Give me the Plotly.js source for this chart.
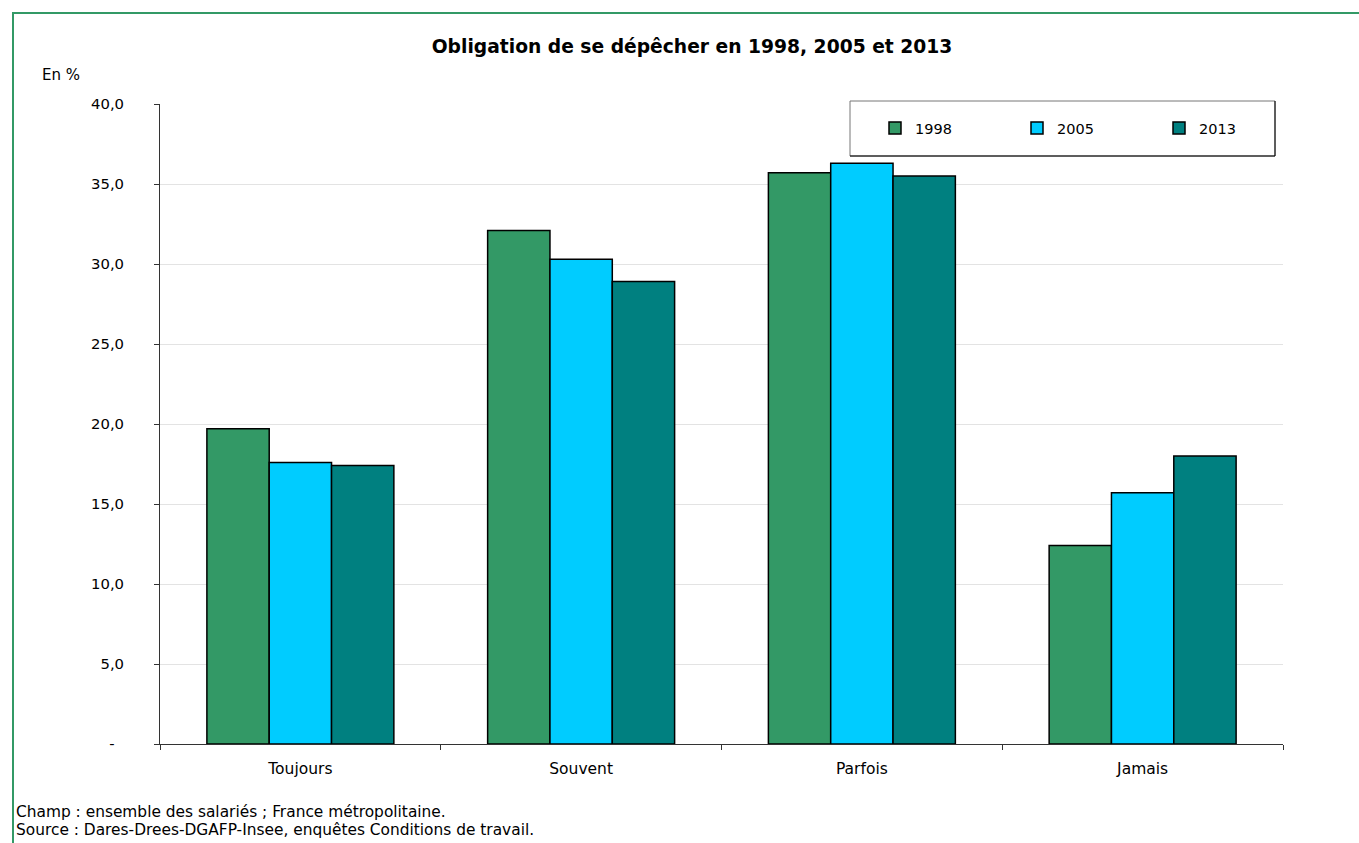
<!DOCTYPE html>
<html>
<head>
<meta charset="utf-8">
<script src="https://cdn.plot.ly/plotly-3.0.1.min.js"></script>
<style>
  html, body { margin: 0; padding: 0; background: #fff; overflow: hidden; }
  #frame { position: absolute; left: 12px; top: 12px; width: 1400px; height: 900px;
           border-left: 2px solid #339966; border-top: 2px solid #339966; pointer-events: none; }
  #chart { position: absolute; left: 0; top: 0; width: 1359px; height: 843px; }
</style>
</head>
<body>
<div id="chart"></div>
<div id="frame"></div>
<script>
const categories = ["Toujours", "Souvent", "Parfois", "Jamais"];
const seriesNames = ["1998", "2005", "2013"];
const v1998 = [19.7, 32.1, 35.7, 12.4];
const v2005 = [17.6, 30.3, 36.3, 15.7];
const v2013 = [17.4, 28.9, 35.5, 18.0];
const yTickVals = [0, 5, 10, 15, 20, 25, 30, 35, 40];
const yTickText = ["-\u00a0\u00a0", "5,0", "10,0", "15,0", "20,0", "25,0", "30,0", "35,0", "40,0"];
const colors = ["#339966", "#00CCFF", "#008080"];

const W = 1359, H = 843;
const M = { l: 160, r: W - 1283, t: 104, b: H - 744 };
const PW = W - M.l - M.r, PH = H - M.t - M.b;
const px = x => (x - M.l) / PW;
const py = y => (H - M.b - y) / PH;

const font = "DejaVu Sans, Verdana, sans-serif";
const values = [v1998, v2005, v2013];
const legendIds = ["legend", "legend2", "legend3"];
const legendCenters = [895, 1037, 1179];

const data = values.map((vals, i) => ({
  type: "bar",
  name: seriesNames[i],
  x: categories,
  y: vals,
  legend: legendIds[i],
  marker: { color: colors[i], line: { color: "#000", width: 1.5 } },
  hoverinfo: "x+y+name"
}));

const layout = {
  width: W, height: H,
  margin: M,
  paper_bgcolor: "#fff", plot_bgcolor: "#fff",
  font: { family: font, size: 14.5, color: "#000" },
  barmode: "group",
  bargap: 0.334,
  bargroupgap: 0,
  showlegend: true,
  title: {
    text: "<b>Obligation de se dépêcher en 1998, 2005 et 2013</b>",
    font: { family: font, size: 18.7, color: "#000" },
    x: 692 / W, xanchor: "center",
    y: 1 - 46 / H, yref: "container", yanchor: "middle"
  },
  xaxis: {
    type: "category",
    showline: true, linecolor: "#333", linewidth: 1,
    ticks: "outside", ticklen: 5, tickcolor: "#333",
    tickson: "boundaries",
    ticklabelstandoff: 10,
    showgrid: false,
    tickfont: { family: font, size: 15.5 },
    fixedrange: true
  },
  yaxis: {
    range: [0, 40],
    tickvals: yTickVals, ticktext: yTickText,
    showline: true, linecolor: "#333", linewidth: 1,
    ticks: "outside", ticklen: 5, tickcolor: "#333",
    ticklabelstandoff: 27,
    showgrid: true, gridcolor: "#e3e3e3", gridwidth: 1,
    zeroline: false,
    tickfont: { family: font, size: 14.8 },
    fixedrange: true
  },
  shapes: [
    { type: "rect", xref: "paper", yref: "paper",
      x0: px(850), x1: px(1275), y0: py(156), y1: py(101),
      line: { color: "#777", width: 1 }, fillcolor: "rgba(0,0,0,0)", layer: "below" },
    { type: "path", xref: "paper", yref: "paper",
      path: `M ${px(1275)} ${py(101)} L ${px(1275)} ${py(156)} L ${px(850)} ${py(156)}`,
      line: { color: "#000", width: 1 }, layer: "below" }
  ],
  annotations: [
    { text: "En %", xref: "paper", yref: "paper", x: px(40), y: py(75),
      xanchor: "left", yanchor: "middle", showarrow: false, font: { family: font, size: 15 } },
    { text: "Champ : ensemble des salariés ; France métropolitaine.", xref: "paper", yref: "paper",
      x: px(14), y: py(812), xanchor: "left", yanchor: "middle", showarrow: false,
      font: { family: font, size: 15.4 } },
    { text: "Source : Dares-Drees-DGAFP-Insee, enquêtes Conditions de travail.", xref: "paper", yref: "paper",
      x: px(14), y: py(830), xanchor: "left", yanchor: "middle", showarrow: false,
      font: { family: font, size: 15.4 } }
  ]
};

legendIds.forEach((id, i) => {
  layout[id] = {
    orientation: "v",
    x: px(legendCenters[i] - 20), xanchor: "left",
    y: py(128), yanchor: "middle",
    bgcolor: "rgba(0,0,0,0)",
    borderwidth: 0,
    font: { family: font, size: 14.5 }
  };
});

Plotly.newPlot("chart", data, layout, { displayModeBar: false });
</script>
</body>
</html>
